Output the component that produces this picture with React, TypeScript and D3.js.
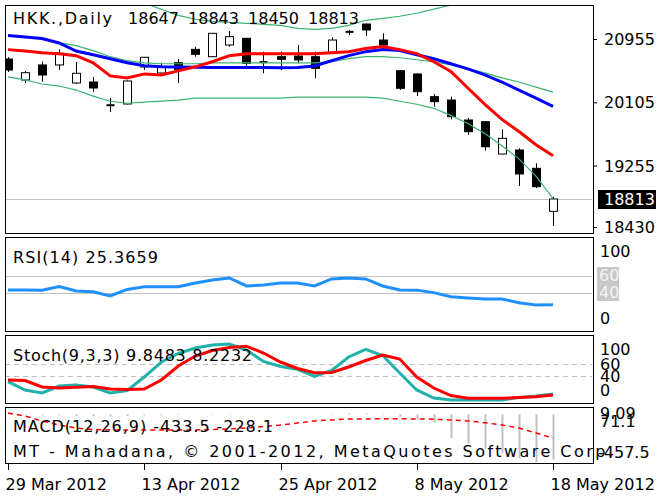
import React, { useEffect, useRef } from "react";
import * as d3 from "d3";

// HKK daily candles, 29 Mar 2012 .. 18 May 2012
const opens = [20693, 20411, 20613, 20613, 20371, 20384, 20075, 20089, 20586, 20505, 20643, 20823, 20724, 20881, 20971, 20657, 20724, 20733, 20724, 20770, 21062, 21163, 20948, 20536, 20492, 20187, 20142, 19874, 19851, 19417, 19471, 19225, 18647];
const highs = [20720, 20532, 20657, 20823, 20653, 20451, 20169, 20404, 20720, 20643, 20693, 20858, 21042, 21069, 20975, 20791, 20791, 20881, 20791, 20985, 21083, 21170, 21038, 20545, 20498, 20223, 20187, 19901, 19860, 19749, 19494, 19292, 18843];
const lows = [20519, 20371, 20388, 20545, 20357, 20250, 19981, 20082, 20545, 20498, 20371, 20724, 20720, 20858, 20568, 20501, 20545, 20635, 20434, 20767, 21015, 21002, 20874, 20277, 20196, 20053, 19883, 19672, 19462, 19411, 18988, 18961, 18450];
const closes = [20545, 20509, 20478, 20770, 20501, 20304, 20069, 20398, 20716, 20586, 20555, 20756, 21038, 20993, 20635, 20646, 20689, 20680, 20568, 20948, 21053, 21083, 20881, 20300, 20254, 20120, 19918, 19717, 19515, 19628, 19149, 18978, 18813];

const redMA = [20819, 20799, 20778, 20765, 20738, 20642, 20466, 20439, 20493, 20479, 20534, 20588, 20656, 20738, 20765, 20765, 20765, 20762, 20765, 20778, 20792, 20833, 20860, 20819, 20765, 20656, 20527, 20303, 20085, 19882, 19719, 19542, 19393];
const blueMA = [21009, 20989, 20969, 20908, 20800, 20751, 20697, 20642, 20602, 20590, 20585, 20582, 20580, 20578, 20580, 20578, 20576, 20580, 20600, 20670, 20738, 20792, 20819, 20806, 20751, 20697, 20629, 20561, 20479, 20384, 20276, 20167, 20058];
const bandUp = [21906, 21906, 21879, 21838, 21770, 21702, 21634, 21539, 21444, 21362, 21280, 21227, 21199, 21186, 21172, 21159, 21145, 21104, 21091, 21104, 21145, 21213, 21240, 21267, 21308, 21362, 21417, 21471, 21539, 21607, 21689, 21770, 21852];
const bandMid = [21009, 20996, 20955, 20914, 20873, 20806, 20724, 20670, 20642, 20629, 20629, 20629, 20642, 20642, 20642, 20642, 20642, 20642, 20642, 20656, 20697, 20724, 20724, 20710, 20683, 20656, 20615, 20561, 20507, 20439, 20384, 20316, 20248];
const bandLow = [20452, 20412, 20357, 20330, 20276, 20194, 20126, 20099, 20113, 20126, 20140, 20167, 20167, 20167, 20167, 20167, 20167, 20181, 20181, 20181, 20181, 20181, 20167, 20126, 20085, 20031, 19936, 19827, 19691, 19528, 19352, 19121, 18822];

const rsi = [43.2, 43.2, 43.0, 47.3, 42.0, 41.0, 36.0, 43.8, 47.0, 47.0, 47.0, 51.6, 55.1, 57.6, 48.0, 49.2, 51.6, 51.6, 48.0, 56.4, 57.6, 56.4, 48.0, 43.2, 43.0, 40.0, 35.0, 33.6, 32.4, 32.4, 28.0, 25.3, 25.3659];
const stochMain = [30.5, 16.7, 11.7, 23.3, 25, 21.7, 11.7, 15.8, 38.3, 63.3, 77.5, 86.7, 91.7, 93.3, 83.3, 64.2, 55.8, 51.2, 39.2, 49.2, 71.7, 84.5, 74.2, 45, 16.7, 3.3, 0, 0, 0, 0, 4.2, 6.7, 9.8483];
const stochSignal = [33.3, 32.5, 21.7, 20, 21.2, 22.5, 18.3, 17.5, 18.3, 33.3, 56.7, 73.3, 82.5, 87.5, 89.7, 78.3, 63.3, 52.5, 45.5, 45.8, 55, 65.8, 75, 68.3, 38.3, 20, 7.5, 2.8, 2.8, 2.8, 4.2, 5.5, 8.2232];
const macdMain = [5, -5, -10, -10, -15, -15, -20, -15, -10, -10, -5, 0, 5, 5, 0, 0, 0, 0, 0, 5, 10, 10, 5, -20, -50, -80, -230, -280, -330, -370, -420, -457.5, -433.5];
const macdSignal = [13, -15, -63, -102, -131, -145, -150, -150, -150, -150, -150, -150, -145, -140, -131, -116, -102, -83, -63, -54, -44, -44, -42, -42, -44, -46, -54, -63, -80, -102, -131, -179, -228.1];

const priceTicks = [20955, 20105, 19255, 18430];
const dateIdx = [0, 8, 16, 24, 32];
const dateLabels = ["29 Mar 2012", "13 Apr 2012", "25 Apr 2012", "8 May 2012", "18 May 2012"];

const W = 668, H = 499;
const FONT = "'DejaVu Sans', Verdana, sans-serif";
const FS = 16;

const App = () => {
    const svgRef = useRef<SVGSVGElement>(null);

    useEffect(() => {
        const svg = d3.select(svgRef.current);
        svg.selectAll("*").remove();

        const n = closes.length;
        const left = 5, right = 593;
        const panels = {
            main: { top: 5, bottom: 233 },
            rsi: { top: 237, bottom: 331 },
            stoch: { top: 335, bottom: 403 },
            macd: { top: 407, bottom: 463 },
        };

        const x = d3.scaleLinear().domain([0, n - 1]).range([8, 553]);
        const y = d3.scaleLinear().domain([18430, 20955]).range([227.5, 39.5]);
        const yR = d3.scaleLinear().domain([0, 100]).range([326, 242.6]);
        const yS = d3.scaleLinear().domain([0, 100]).range([400, 340]);
        const yM = d3.scaleLinear().domain([-457.5, 71.1]).range([462, 407]);

        svg.append("rect").attr("width", W).attr("height", H).attr("fill", "#fff");

        const defs = svg.append("defs");
        Object.entries(panels).forEach(([k, p]) => {
            defs.append("clipPath").attr("id", "clip-" + k)
                .append("rect")
                .attr("x", left + 1).attr("y", p.top + 1)
                .attr("width", right - left - 2).attr("height", p.bottom - p.top - 2);
        });

        const lineOf = (arr: number[], sc: any) =>
            d3.line<number>().x((_, i) => x(i)).y(d => sc(d))(arr);

        const txt = (g: any, tx: number, ty: number, s: string, color = "#000", len = 0) => {
            const t = g.append("text").attr("x", tx).attr("y", ty)
                .attr("dominant-baseline", "central")
                .attr("font-family", FONT).attr("font-size", FS)
                .attr("fill", color).text(s);
            if (len) t.attr("textLength", len).attr("lengthAdjust", "spacing");
            return t;
        };

        // ---------- main price panel ----------
        const gm = svg.append("g").attr("clip-path", "url(#clip-main)");
        const lastY = Math.round(y(closes[n - 1])) + 0.5;
        gm.append("line").attr("x1", left).attr("x2", right)
            .attr("y1", lastY).attr("y2", lastY).attr("stroke", "#c0c0c0");

        closes.forEach((c, i) => {
            const cx = Math.round(x(i)) + 0.5;
            const o = opens[i];
            gm.append("line").attr("x1", cx).attr("x2", cx)
                .attr("y1", y(highs[i])).attr("y2", y(lows[i]))
                .attr("stroke", "#000");
            const top = y(Math.max(o, c)), bot = y(Math.min(o, c));
            if (bot - top < 1.5) {
                gm.append("line").attr("x1", cx - 4).attr("x2", cx + 4)
                    .attr("y1", (top + bot) / 2).attr("y2", (top + bot) / 2)
                    .attr("stroke", "#000").attr("stroke-width", 2);
            } else {
                gm.append("rect").attr("x", cx - 4).attr("y", top)
                    .attr("width", 8).attr("height", bot - top)
                    .attr("fill", c >= o ? "#fff" : "#000").attr("stroke", "#000");
            }
        });

        [bandUp, bandMid, bandLow].forEach(b =>
            gm.append("path").attr("d", lineOf(b, y)).attr("fill", "none")
                .attr("stroke", "#3cb371").attr("stroke-width", 1.2));
        gm.append("path").attr("d", lineOf(blueMA, y)).attr("fill", "none")
            .attr("stroke", "#0000ff").attr("stroke-width", 3);
        gm.append("path").attr("d", lineOf(redMA, y)).attr("fill", "none")
            .attr("stroke", "#ff0000").attr("stroke-width", 3);

        txt(svg, 13, 18, "HKK.,Daily", "#000", 99);
        [opens[n - 1], highs[n - 1], lows[n - 1], closes[n - 1]].forEach((v, k) =>
            txt(svg, 128 + k * 60, 18, String(v), "#000", 51));

        priceTicks.forEach(p => {
            svg.append("line").attr("x1", right).attr("x2", right + 4)
                .attr("y1", y(p)).attr("y2", y(p)).attr("stroke", "#000");
            txt(svg, 604, y(p), String(p));
        });
        svg.append("rect").attr("x", 598).attr("y", lastY - 9.5)
            .attr("width", 58).attr("height", 19).attr("fill", "#000");
        txt(svg, 604, lastY, String(closes[n - 1]), "#fff");

        // ---------- RSI panel ----------
        const gr = svg.append("g").attr("clip-path", "url(#clip-rsi)");
        [60, 40].forEach(l => {
            const ly = Math.round(yR(l)) + 0.5;
            gr.append("line").attr("x1", left).attr("x2", right)
                .attr("y1", ly).attr("y2", ly).attr("stroke", "#c0c0c0");
        });
        gr.append("path").attr("d", lineOf(rsi, yR)).attr("fill", "none")
            .attr("stroke", "#1e90ff").attr("stroke-width", 3);
        txt(svg, 13, 257, "RSI(14) " + rsi[n - 1].toFixed(4), "#000", 145);
        txt(svg, 600, yR(100) + 9, "100");
        svg.append("rect").attr("x", 597).attr("y", 267).attr("width", 22).attr("height", 34).attr("fill", "#c8c8c8");
        txt(svg, 599, yR(60), "60", "#f2f2f2");
        txt(svg, 599, yR(40), "40", "#f2f2f2");
        txt(svg, 600, yR(0) - 8, "0");

        // ---------- Stochastic panel ----------
        const gs = svg.append("g").attr("clip-path", "url(#clip-stoch)");
        [60, 40].forEach(l => {
            const ly = Math.round(yS(l)) + 0.5;
            gs.append("line").attr("x1", left).attr("x2", right)
                .attr("y1", ly).attr("y2", ly).attr("stroke", "#c0c0c0")
                .attr("stroke-dasharray", "5,4");
        });
        gs.append("path").attr("d", lineOf(stochMain, yS)).attr("fill", "none")
            .attr("stroke", "#20b2aa").attr("stroke-width", 3);
        gs.append("path").attr("d", lineOf(stochSignal, yS)).attr("fill", "none")
            .attr("stroke", "#ff0000").attr("stroke-width", 3);
        txt(svg, 13, 355, "Stoch(9,3,3) " + stochMain[n - 1].toFixed(4) + " " + stochSignal[n - 1].toFixed(4), "#000", 239);
        txt(svg, 600, yS(100) + 9, "100");
        txt(svg, 600, yS(60), "60");
        txt(svg, 600, yS(40), "40");
        txt(svg, 600, yS(0) - 10, "0");

        // ---------- MACD panel ----------
        const gd = svg.append("g").attr("clip-path", "url(#clip-macd)");
        macdMain.forEach((v, i) => {
            const cx = Math.round(x(i)) + 0.5;
            gd.append("line").attr("x1", cx).attr("x2", cx)
                .attr("y1", yM(0)).attr("y2", yM(v))
                .attr("stroke", "#c0c0c0").attr("stroke-width", 2);
        });
        gd.append("path").attr("d", lineOf(macdSignal, yM)).attr("fill", "none")
            .attr("stroke", "#ff0000").attr("stroke-width", 1.5)
            .attr("stroke-dasharray", "5,4");
        txt(svg, 13, 426, "MACD(12,26,9) " + macdMain[n - 1].toFixed(1) + " " + macdSignal[n - 1].toFixed(1), "#000", 260);
        txt(svg, 600, 413, "9.09");
        txt(svg, 600, 421, "71.1");
        txt(svg, 598, 452, "-457.5");
        txt(svg, 13, 451, "MT - Mahadana, © 2001-2012, MetaQuotes Software Corp.", "#000", 600);

        // ---------- frames ----------
        Object.values(panels).forEach(p => {
            svg.append("rect").attr("x", left + 0.5).attr("y", p.top + 0.5)
                .attr("width", right - left).attr("height", p.bottom - p.top)
                .attr("fill", "none").attr("stroke", "#000");
        });

        // ---------- time axis ----------
        dateIdx.forEach((di, k) => {
            const tx = Math.round(x(di)) + 0.5;
            svg.append("line").attr("x1", tx).attr("x2", tx)
                .attr("y1", panels.macd.bottom).attr("y2", panels.macd.bottom + 7)
                .attr("stroke", "#000");
            txt(svg, tx - 3, 484, dateLabels[k]);
        });
    }, []);

    return (
        <svg ref={svgRef} width={W} height={H}
            style={{ position: "absolute", left: 0, top: 0, display: "block" }} />
    );
};

export default App;
